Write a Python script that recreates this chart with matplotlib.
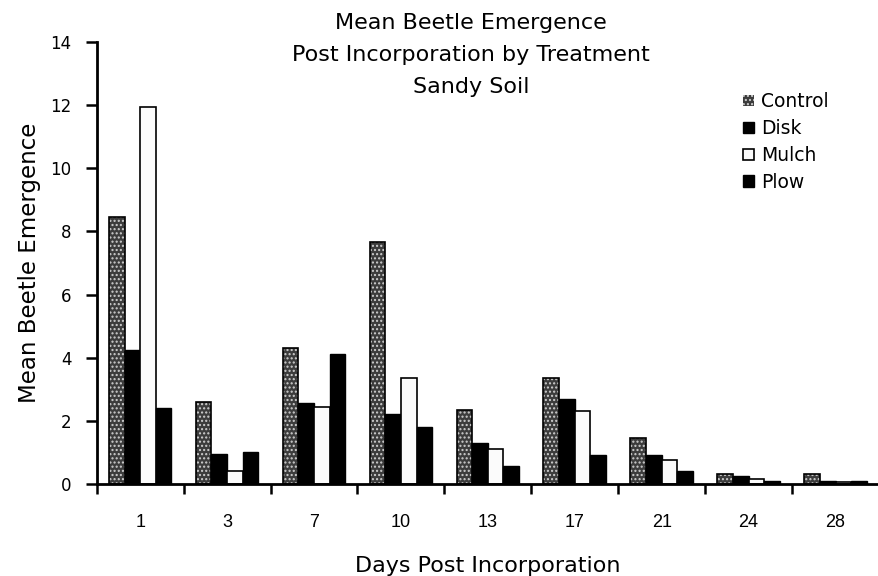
import numpy as np
import matplotlib
matplotlib.use("Agg")
import matplotlib.pyplot as plt

plt.rcParams['font.family'] = ['DejaVu Sans']

# data
days = ['1', '3', '7', '10', '13', '17', '21', '24', '28']
control = [8.45, 2.6, 4.3, 7.65, 2.35, 3.35, 1.45, 0.3, 0.3]
disk = [4.25, 0.95, 2.55, 2.2, 1.3, 2.7, 0.9, 0.25, 0.1]
mulch = [11.95, 0.4, 2.45, 3.35, 1.1, 2.3, 0.75, 0.15, 0.05]
plow = [2.4, 1.0, 4.1, 1.8, 0.55, 0.9, 0.4, 0.1, 0.1]

fig = plt.figure(figsize=(8.79, 5.76), dpi=100)
ax = fig.add_axes([0.110, 0.160, 0.890, 0.767])

x = np.arange(len(days))
w = 0.18

# Control: stippled grey, drawn as a hatched fill plus a black outline
ax.bar(x - 1.5 * w, control, width=w, color='#3c3c3c', hatch='....',
       edgecolor='#cfcfcf', linewidth=0, label='Control')
ax.bar(x - 1.5 * w, control, width=w, fill=False, edgecolor='black', linewidth=1.2)
ax.bar(x - 0.5 * w, disk, width=w, color='black', edgecolor='black',
       linewidth=1.0, label='Disk')
ax.bar(x + 0.5 * w, mulch, width=w, color='#fbfbfb', edgecolor='black',
       linewidth=1.2, label='Mulch')
ax.bar(x + 1.5 * w, plow, width=w, color='black', edgecolor='black',
       linewidth=1.0, label='Plow')

ax.set_xlim(-0.5, len(days) - 0.5)
ax.set_ylim(0, 14)
ax.set_yticks(np.arange(0, 15, 2))

# ticks sit between categories, labels at the centres
ax.set_xticks(np.arange(-0.5, len(days), 1))
ax.set_xticklabels([])
ax.set_xticks(x, minor=True)
ax.set_xticklabels(days, minor=True, family='Liberation Sans')
ax.tick_params(axis='x', which='major', direction='out', length=7, width=1.8)
ax.tick_params(axis='x', which='minor', length=0, pad=22, labelsize=13)
ax.tick_params(axis='y', direction='out', length=8, width=1.8, labelsize=12, pad=10)

for s in ['top', 'right']:
    ax.spines[s].set_visible(False)
for s in ['left', 'bottom']:
    ax.spines[s].set_linewidth(2)

ax.set_xlabel('Days Post Incorporation', fontsize=16, labelpad=18)
ax.set_ylabel('Mean Beetle Emergence', fontsize=16.5, labelpad=7)

fig.text(0.536, 0.977, 'Mean Beetle Emergence\nPost Incorporation by Treatment\nSandy Soil',
         ha='center', va='top', fontsize=16, linespacing=1.75)

ax.legend(loc='upper left', bbox_to_anchor=(0.805, 0.925), frameon=False,
          fontsize=13.5, handlelength=0.55, handleheight=0.55, handletextpad=0.4,
          labelspacing=0.42)

fig.savefig('out.png', dpi=100)
